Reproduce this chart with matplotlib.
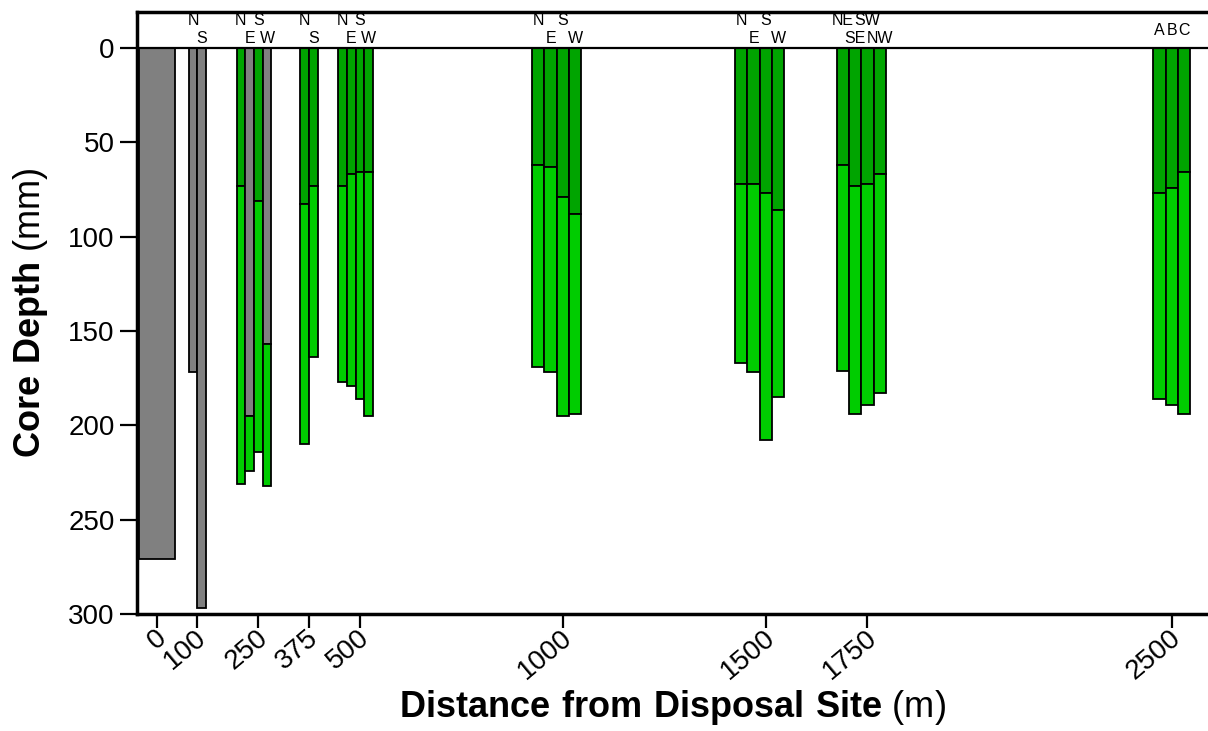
import numpy as np
import matplotlib
matplotlib.use("Agg")
import matplotlib.pyplot as plt
import matplotlib.transforms as mtrans

# distances of sampling sites (m)
sites = [0, 100, 250, 375, 500, 1000, 1500, 1750, 2500]

# core labels at each site
core_labels = [[""], ["N", "S"], ["N", "E", "S", "W"], ["N", "S"],
               ["N", "E", "S", "W"], ["N", "E", "S", "W"],
               ["N", "E", "S", "W"], ["NE", "SE", "SW", "NW"],
               ["A", "B", "C"]]

# depth of upper layer (mm) and total core depth (mm)
upper_depth = [[271], [172, 297], [73, 195, 81, 157], [83, 73],
               [73, 67, 66, 66], [62, 63, 79, 88], [72, 72, 77, 86],
               [62, 73, 72, 67], [77, 74, 66]]
total_depth = [[271], [172, 297], [231, 224, 214, 232], [210, 164],
               [177, 179, 186, 195], [169, 172, 195, 194],
               [167, 172, 208, 185], [171, 194, 189, 183],
               [186, 189, 194]]
# upper layer type: g = grey (disposal material), d = dark green
upper_kind = [["g"], ["g", "g"], ["d", "g", "d", "g"], ["d", "d"],
              ["d"] * 4, ["d"] * 4, ["d"] * 4, ["d"] * 4, ["d"] * 3]

GREY = "#808080"
DARK = "#00A400"
BRIGHT = "#00CC00"

plt.rcParams['font.family'] = ['Liberation Sans', 'DejaVu Sans']
plt.rcParams['mathtext.fontset'] = 'custom'
plt.rcParams['mathtext.rm'] = 'Liberation Sans'
plt.rcParams['mathtext.bf'] = 'Liberation Sans:bold'

fig = plt.figure(figsize=(12.08, 7.31), dpi=100)
ax = fig.add_axes([137 / 1208, 1 - 614 / 731, 1 - 137 / 1208, (614 - 12) / 731])

for i, x0 in enumerate(sites):
    n = len(total_depth[i])
    if n == 1:
        w, anchor = 89, 0
    elif sites[i] <= 500:
        w = 21.5
        anchor = 0.5 if n == 2 else 2
    else:
        w = 30.3
        anchor = 1 if n == 3 else 2
    for j in range(n):
        xc = x0 + (j - anchor) * w
        up = upper_depth[i][j]
        tot = total_depth[i][j]
        col = GREY if upper_kind[i][j] == "g" else DARK
        ax.bar(xc, up, width=w, bottom=0, color=col, edgecolor="black", linewidth=1.3, zorder=3)
        if tot > up:
            ax.bar(xc, tot - up, width=w, bottom=up, color=BRIGHT, edgecolor="black",
                   linewidth=1.3, zorder=3)
        lab = core_labels[i][j]
        if lab:
            if n == 3:
                ly = -9
            else:
                ly = -14.3 if j % 2 == 0 else -4.8
            ax.text(xc, ly, lab, ha="center", va="center", fontsize=11.5)

ax.axhline(0, color="black", linewidth=1.6, zorder=4)

ax.set_xlim(-49, 2589)
ax.set_ylim(300, -19)
ax.set_yticks(np.arange(0, 301, 50))
ax.set_xticks(sites)
ax.set_xticklabels([str(s) for s in sites], rotation=40, ha="right", va="center",
                   rotation_mode="anchor")
ax.tick_params(axis="y", labelsize=20, length=12, width=1.6, direction="out", pad=4)
ax.tick_params(axis="x", labelsize=20, length=10, width=1.6, direction="out", pad=5)
shift = mtrans.ScaledTranslation(6 / 100, 0, fig.dpi_scale_trans)
for lbl in ax.get_xticklabels():
    lbl.set_transform(lbl.get_transform() + shift)

for s in ["left", "top", "bottom"]:
    ax.spines[s].set_linewidth(2.5)
ax.spines["right"].set_visible(False)

ax.set_ylabel(r"$\bf{Core\ Depth}$ (mm)", fontsize=26)
ax.yaxis.label.set_rotation_mode("default")
ax.yaxis.label.set_va("center")
ax.yaxis.label.set_ha("center")
ax.yaxis.set_label_coords(-0.099, 0.5)

ax.set_xlabel(r"$\bf{Distance\ from\ Disposal\ Site}$ (m)", fontsize=26)
ax.xaxis.label.set_va("center")
ax.xaxis.set_label_coords(0.5, -0.155)

fig.savefig("out.png", dpi=100)
